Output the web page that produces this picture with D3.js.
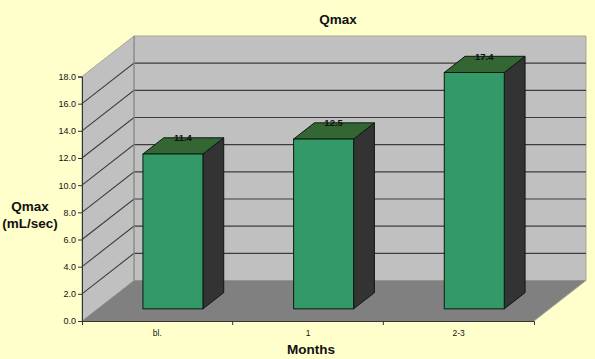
<!DOCTYPE html>
<html>
<head>
<meta charset="utf-8">
<script src="https://cdn.jsdelivr.net/npm/d3@7.9.0/dist/d3.min.js"></script>
<style>
  html, body { margin: 0; padding: 0; background: #ffffcc; }
  svg { display: block; }
  text { font-family: "Liberation Sans", Arial, sans-serif; fill: #111; }
</style>
</head>
<body>
<div id="chart"></div>
<script>
const categories = ['bl.', '1', '2-3'];
const qmaxValues = [11.4, 12.5, 17.4];
const valueLabels = ['11.4', '12.5', '17.4'];
const yTicks = [0, 2, 4, 6, 8, 10, 12, 14, 16, 18];

const width = 595;
const height = 359;
const depth = { x: 52, y: -40.5 };    // front of the box to the back wall
const barInset = 0.3;                 // how far into the box the bars stand
const barDepth = 0.4;
const barWidth = 60;

const svg = d3.select('#chart').append('svg')
  .attr('width', width)
  .attr('height', height);

const xScale = d3.scaleBand().domain(categories).range([82, 534]);
const yScale = d3.scaleLinear().domain([0, 18]).range([321, 76.5]);

const poly = d3.line();
const x0 = xScale.range()[0];
const x1 = xScale.range()[1];
const yBottom = yScale(0);
const yTop = yScale(18);

// walls and floor
svg.append('path')
  .attr('d', poly([[x0 + depth.x, yTop + depth.y], [x1 + depth.x, yTop + depth.y], [x1 + depth.x, yBottom + depth.y], [x0 + depth.x, yBottom + depth.y]]) + 'Z')
  .attr('fill', '#c0c0c0').attr('stroke', '#a9a796').attr('stroke-width', 1);
svg.append('path')
  .attr('d', poly([[x0, yTop], [x0 + depth.x, yTop + depth.y], [x0 + depth.x, yBottom + depth.y], [x0, yBottom]]) + 'Z')
  .attr('fill', '#c0c0c0').attr('stroke', '#a9a796').attr('stroke-width', 1);

// gridlines, the 0 and 18 ones are just the edges of the box
svg.append('g')
  .selectAll('path')
  .data(yTicks.filter((d) => d > 0 && d < 18))
  .join('path')
  .attr('d', (d) => poly([[x0, yScale(d)], [x0 + depth.x, yScale(d) + depth.y], [x1 + depth.x, yScale(d) + depth.y]]))
  .attr('fill', 'none')
  .attr('stroke', '#3c3c3c')
  .attr('stroke-width', 1.1);

svg.append('path')
  .attr('d', poly([[x0, yBottom], [x0 + depth.x, yBottom + depth.y], [x1 + depth.x, yBottom + depth.y], [x1, yBottom]]) + 'Z')
  .attr('fill', '#808080');

svg.append('line')
  .attr('x1', x0 + depth.x).attr('x2', x0 + depth.x)
  .attr('y1', yTop + depth.y).attr('y2', yBottom + depth.y)
  .attr('stroke', '#8a8a8a').attr('stroke-width', 1.2);

// bars
const bars = svg.append('g')
  .selectAll('g')
  .data(categories.map((c, i) => ({ c, value: qmaxValues[i], label: valueLabels[i] })))
  .join('g');

const fx = (d) => xScale(d.c) + xScale.bandwidth() / 2 + depth.x * barInset - barWidth / 2;
const fy = yBottom + depth.y * barInset;
const bx = depth.x * barDepth;
const by = depth.y * barDepth;
const barTop = (d) => fy - (yBottom - yScale(d.value));

bars.append('path')   // side
  .attr('d', (d) => poly([[fx(d) + barWidth, barTop(d)], [fx(d) + barWidth + bx, barTop(d) + by], [fx(d) + barWidth + bx, fy + by], [fx(d) + barWidth, fy]]) + 'Z')
  .attr('fill', '#333333').attr('stroke', '#0c1a12').attr('stroke-width', 1);
bars.append('path')   // top
  .attr('d', (d) => poly([[fx(d), barTop(d)], [fx(d) + bx, barTop(d) + by], [fx(d) + barWidth + bx, barTop(d) + by], [fx(d) + barWidth, barTop(d)]]) + 'Z')
  .attr('fill', '#336633').attr('stroke', '#0c1a12').attr('stroke-width', 1);
bars.append('rect')   // front
  .attr('x', fx)
  .attr('y', barTop)
  .attr('width', barWidth)
  .attr('height', (d) => fy - barTop(d))
  .attr('fill', '#339966').attr('stroke', '#0c1a12').attr('stroke-width', 1);
bars.append('text')
  .attr('x', (d) => fx(d) + barWidth / 2 + 10)
  .attr('y', (d) => barTop(d) + by + 3.5)
  .attr('text-anchor', 'middle')
  .attr('font-size', 9.5)
  .attr('font-weight', 'bold')
  .text((d) => d.label);

// axes
const yAxis = d3.axisLeft(yScale)
  .tickValues(yTicks)
  .tickSize(4)
  .tickPadding(2)
  .tickFormat(d3.format('.1f'));
const yG = svg.append('g').attr('transform', `translate(${x0},0)`).call(yAxis);
yG.attr('font-family', null);
yG.selectAll('text').attr('font-size', 9);
yG.selectAll('line, path').attr('stroke', '#333').attr('stroke-width', 1);

const xAxis = d3.axisBottom(xScale)
  .tickSize(4)
  .tickSizeOuter(4)
  .tickValues([]);
const xG = svg.append('g').attr('transform', `translate(0,${yBottom})`).call(xAxis);
xG.selectAll('path').attr('stroke', '#333').attr('stroke-width', 1);

// category ticks sit between the bars
xG.selectAll('.sep')
  .data(categories.slice(1))
  .join('line')
  .attr('class', 'sep')
  .attr('x1', (d) => xScale(d)).attr('x2', (d) => xScale(d))
  .attr('y1', 0).attr('y2', 4)
  .attr('stroke', '#333');
xG.selectAll('.cat')
  .data(categories)
  .join('text')
  .attr('class', 'cat')
  .attr('x', (d) => xScale(d) + xScale.bandwidth() / 2)
  .attr('y', 15)
  .attr('text-anchor', 'middle')
  .attr('font-size', 8.5)
  .text((d) => d);

// floor edge on the right
svg.append('line')
  .attr('x1', x1).attr('y1', yBottom)
  .attr('x2', x1 + depth.x).attr('y2', yBottom + depth.y)
  .attr('stroke', '#a9a796');

// titles
svg.append('text').attr('x', 338).attr('y', 24)
  .attr('text-anchor', 'middle').attr('font-size', 13.5).attr('font-weight', 'bold').text('Qmax');
svg.append('text').attr('x', 311).attr('y', 354)
  .attr('text-anchor', 'middle').attr('font-size', 13.5).attr('font-weight', 'bold').text('Months');
svg.append('text').attr('x', 30).attr('y', 211)
  .attr('text-anchor', 'middle').attr('font-size', 13.5).attr('font-weight', 'bold').text('Qmax');
svg.append('text').attr('x', 30).attr('y', 228)
  .attr('text-anchor', 'middle').attr('font-size', 13.5).attr('font-weight', 'bold').text('(mL/sec)');
</script>
</body>
</html>
